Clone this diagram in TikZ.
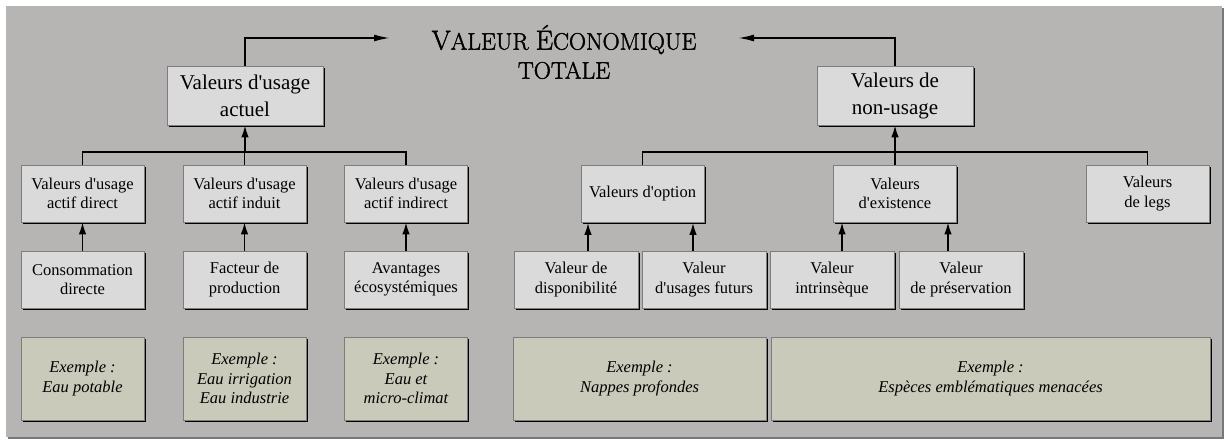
\documentclass[tikz,border=0pt]{standalone}
\usepackage{fontspec}
\setmainfont{Liberation Serif}
\newfontfamily\bodyfont{Liberation Serif}
\newfontfamily\titlefont{Latin Modern Roman}[FakeBold=1.6]
\usetikzlibrary{arrows.meta,shadows,calc}
\definecolor{panel}{RGB}{182,181,179}
\definecolor{panelshadow}{RGB}{120,120,120}
\definecolor{boxfill}{RGB}{218,218,218}
\definecolor{exfill}{RGB}{201,202,186}
\definecolor{boxedge}{RGB}{125,125,125}
\newcommand{\bigc}[1]{{\fontsize{27.5}{29}\selectfont #1}}
\tikzset{
  base/.style={draw=boxedge, line width=0.6pt, inner sep=0pt, align=center,
    drop shadow={shadow xshift=1.8pt, shadow yshift=-1.8pt, fill=black, opacity=1}},
  big/.style={base, fill=boxfill, minimum width=156pt, minimum height=59pt,
    font=\bodyfont\fontsize{21}{27}\selectfont},
  mid/.style={base, fill=boxfill, minimum width=123pt, minimum height=57pt,
    font=\bodyfont\fontsize{16.5}{19.5}\selectfont},
  ex/.style={base, fill=exfill, minimum height=83pt,
    font=\bodyfont\fontsize{16.5}{19.5}\selectfont\itshape},
  conn/.style={line width=1.8pt},
  arr/.style={conn, -{Latex[length=12pt,width=7.5pt]}},
  toparr/.style={conn, -{Latex[length=16pt,width=7pt]}},
  titlestyle/.style={align=center, inner sep=0pt,
    font=\titlefont\fontsize{23.8}{29}\selectfont},
}
\begin{document}
\begin{tikzpicture}[x=1pt,y=-1pt]
\useasboundingbox (0,0) rectangle (1229,441);
% panel
\fill[panelshadow] (8,8) rectangle (1224,439);
\fill[panel] (6,6) rectangle (1222,437);

% title
\node[titlestyle] (title) at (564,52) {\bigc{V}ALEUR \bigc{É}CONOMIQUE\\TOTALE};

% row 1
\node[big] (act) at (245,95.5) {Valeurs d'usage\\actuel};
\node[big] (non) at (895,95.5) {Valeurs de\\non-usage};

% row 2
\node[mid] (a2) at (82.5,193.5) {Valeurs d'usage\\actif direct};
\node[mid] (b2) at (244.5,193.5) {Valeurs d'usage\\actif induit};
\node[mid] (c2) at (406,193.5) {Valeurs d'usage\\actif indirect};
\node[mid] (opt) at (642.5,194) {Valeurs d'option};
\node[mid] (exi) at (895,193.5) {Valeurs\\d'existence};
\node[mid] (leg) at (1147.5,193.5) {Valeurs\\de legs};

% row 3
\node[mid] (a3) at (82.5,279.5) {Consommation\\directe};
\node[mid] (b3) at (244.5,279.5) {Facteur de\\production};
\node[mid] (c3) at (406,279.5) {Avantages\\écosystémiques};
\node[mid, minimum width=124pt] (d3) at (576,279.5) {Valeur de\\disponibilité};
\node[mid, minimum width=124pt] (e3) at (704,279.5) {Valeur\\d'usages futurs};
\node[mid, minimum width=124pt] (f3) at (832,279.5) {Valeur\\intrinsèque};
\node[mid, minimum width=124pt] (g3) at (961,279.5) {Valeur\\de préservation};

% row 4
\node[ex, minimum width=123pt] (a4) at (82.5,378.5) {Exemple :\\Eau potable};
\node[ex, minimum width=123pt] (b4) at (244.5,378.5) {Exemple :\\Eau irrigation\\Eau industrie};
\node[ex, minimum width=123pt] (c4) at (406,378.5) {Exemple :\\Eau et\\micro-climat};
\node[ex, minimum width=253pt] (d4) at (639.5,378.5) {Exemple :\\Nappes profondes};
\node[ex, minimum width=439pt] (e4) at (990.5,378.5) {Exemple :\\Espèces emblématiques menacées};

% top arrows to the title
\coordinate (tl) at (390,38);
\coordinate (tr) at (738,38);
\draw[toparr] (act.north) |- (tl);
\draw[toparr] (non.north) |- (tr);

% left tree
\coordinate (lbar) at (245,152);
\draw[conn] (a2.north) -- (a2.north |- lbar) -- (c2.north |- lbar) -- (c2.north);
\draw[conn] (b2.north) -- (b2.north |- lbar);
\draw[arr] (act.south |- lbar) -- (act.south);

% right tree
\coordinate (rbar) at (895,152);
\draw[conn] (opt.north) -- (opt.north |- rbar) -- (leg.north |- rbar) -- (leg.north);
\draw[conn] (exi.north) -- (exi.north |- rbar);
\draw[arr] (non.south |- rbar) -- (non.south);

% row 3 -> row 2
\draw[arr] (a3.north) -- (a2.south);
\draw[arr] (b3.north) -- (b2.south);
\draw[arr] (c3.north) -- (c2.south);
\draw[arr] ([xshift=12pt]d3.north) -- ([xshift=12pt]d3.north |- opt.south);
\draw[arr] ([xshift=-11pt]e3.north) -- ([xshift=-11pt]e3.north |- opt.south);
\draw[arr] ([xshift=10pt]f3.north) -- ([xshift=10pt]f3.north |- exi.south);
\draw[arr] ([xshift=-13pt]g3.north) -- ([xshift=-13pt]g3.north |- exi.south);
\end{tikzpicture}
\end{document}
